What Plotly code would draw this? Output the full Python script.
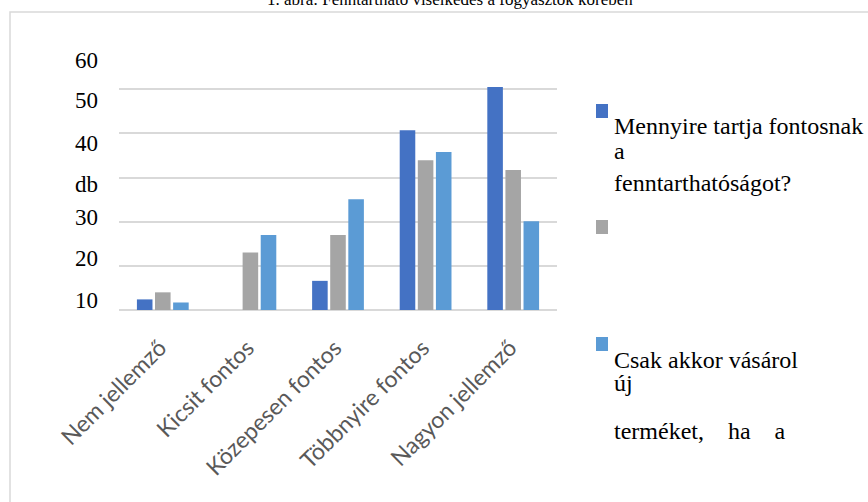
import plotly.graph_objects as go

categories = ["Nem jellemző", "Kicsit fontos", "Közepesen fontos", "Többnyire fontos", "Nagyon jellemző"]
series_names = [
    "Mennyire tartja fontosnak a fenntarthatóságot?",
    "Szokott-e használt terméket vásárolni?",
    "Csak akkor vásárol új terméket, ha a régi elromlik?",
]
s1 = [2.4, 0, 6.6, 40.7, 50.5]
s2 = [4.0, 13.0, 17.0, 33.9, 31.7]
s3 = [1.7, 17.0, 25.1, 35.8, 20.1]
colors = ["#4472C4", "#A5A5A5", "#5B9BD5"]
y_label_texts = ["60", "50", "40", "db", "30", "20", "10"]
title_text = "1. ábra: Fenntartható viselkedés a fogyasztók körében"

W, H = 868, 502
L, R, T, B = 119, 557, 45, 310


def px(x):
    return (x - L) / (R - L)


def py(y):
    return (B - y) / (B - T)


fig = go.Figure()
for name, vals, c in zip(series_names, [s1, s2, s3], colors):
    fig.add_trace(go.Bar(x=categories, y=vals, name=name, marker_color=c,
                         marker_line_width=0, showlegend=False))

ann = []
# y-axis labels (misaligned as in the reference)
y_baselines = [68, 109, 151, 192, 225, 266, 308]
for t, yb in zip(y_label_texts, y_baselines):
    ann.append(dict(text=t, x=px(100), y=py(yb - 8), xref="paper", yref="paper",
                    xanchor="right", yanchor="middle", showarrow=False,
                    font=dict(family="Liberation Serif", size=23, color="#000000")))

# legend texts
leg_lines = [("Mennyire tartja fontosnak", 133), ("a", 158), ("fenntarthatóságot?", 190),
             ("Csak akkor vásárol", 367), ("új", 390), ("terméket,    ha    a", 438)]
for t, yb in leg_lines:
    ann.append(dict(text=t.replace(" ", "&nbsp;") if "    " in t else t,
                    x=px(612), y=py(yb - 7), xref="paper", yref="paper",
                    xanchor="left", yanchor="middle", showarrow=False,
                    font=dict(family="Liberation Serif", size=24, color="#000000")))

# title (cut off at top, as in the reference)
ann.append(dict(text=title_text, x=px(450), y=py(-1), xref="paper", yref="paper",
                xanchor="center", yanchor="middle", showarrow=False,
                font=dict(family="Liberation Serif", size=17, color="#000000")))

shapes = []
# legend markers
for c, (y0, y1) in zip(colors, [(104, 118), (220, 234), (337, 351)]):
    shapes.append(dict(type="rect", xref="paper", yref="paper",
                       x0=px(596), x1=px(608), y0=py(y1), y1=py(y0),
                       fillcolor=c, line=dict(width=0)))
# outer frame
shapes.append(dict(type="rect", xref="paper", yref="paper",
                   x0=px(10), x1=px(900), y0=py(530), y1=py(12),
                   fillcolor="rgba(0,0,0,0)", line=dict(color="#D9D9D9", width=1.5)))

fig.update_layout(
    width=W, height=H,
    margin=dict(l=L, r=W - R, t=T, b=H - B),
    paper_bgcolor="white", plot_bgcolor="white",
    barmode="group", bargap=0.38, bargroupgap=0.14,
    annotations=ann, shapes=shapes,
    xaxis=dict(tickangle=-45, tickfont=dict(family="Lato", size=23, color="#595959"),
               showgrid=False, ticks="", showline=False, ticklabelstandoff=19,
               ticklabelshift=-3),
    yaxis=dict(range=[0, 60], dtick=10, showticklabels=False, gridcolor="#D9D9D9",
               gridwidth=1.5, zeroline=True, zerolinecolor="#D9D9D9", zerolinewidth=1.5,
               showline=False, ticks=""),
)

fig.write_html("out.html", config={"displayModeBar": False},
               post_script="document.body.style.margin='0';document.body.style.overflow='hidden';")
